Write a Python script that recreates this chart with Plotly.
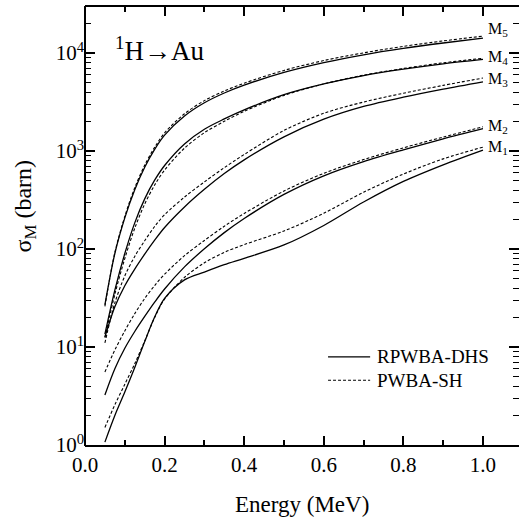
import math
import plotly.graph_objects as go

# Energy grid (MeV)
energy = [0.05, 0.075, 0.1, 0.125, 0.15, 0.175, 0.2, 0.25, 0.3, 0.35, 0.4, 0.5, 0.6, 0.7, 0.8, 0.9, 1.0]

# RPWBA-DHS (solid) cross sections, barn
m5_rpwba = [27, 90, 208, 403, 684, 1041, 1454, 2278, 3108, 3913, 4705, 6346, 7990, 9605, 11157, 12664, 14212]
m4_rpwba = [13.5, 38, 90, 185, 325, 504, 712, 1182, 1669, 2126, 2630, 3760, 4840, 5890, 6840, 7760, 8610]
m3_rpwba = [12.6, 25.7, 42.2, 62.4, 88.6, 123, 166, 269, 407, 589, 813, 1396, 2113, 2851, 3548, 4285, 5093]
m2_rpwba = [3.24, 6.0, 9.7, 14.4, 20.5, 28.7, 39.1, 65.7, 100.6, 147, 205, 361, 559, 781, 1029, 1330, 1690]
m1_rpwba = [1.07, 2.0, 3.47, 6.17, 11.35, 20.2, 31.3, 48.4, 58.2, 69.2, 80.4, 110, 174, 302, 490, 724, 1023]

# PWBA-SH (dashed) cross sections, barn
m5_pwba = [26, 92, 215, 422, 718, 1093, 1530, 2400, 3270, 4100, 4930, 6650, 8380, 10050, 11700, 13300, 14900]
m4_pwba = [12.5, 34.5, 80, 163, 288, 450, 640, 1070, 1540, 2010, 2540, 3700, 4840, 5950, 6960, 7950, 8850]
m3_pwba = [11, 28.2, 53.1, 84.1, 121.6, 169.8, 223.9, 338.8, 484.2, 676, 922, 1622, 2427, 3162, 3890, 4677, 5559]
m2_pwba = [5.56, 9.33, 14.6, 21.9, 31.3, 42.4, 55.3, 85.6, 122.3, 170.8, 230.5, 391, 592, 818, 1078, 1388, 1768]
m1_pwba = [1.51, 2.57, 4.17, 6.76, 11.5, 20, 30.9, 51.3, 72.4, 92.3, 111, 153, 232, 380, 582, 832, 1096]

shells = ["M<sub>5</sub>", "M<sub>4</sub>", "M<sub>3</sub>", "M<sub>2</sub>", "M<sub>1</sub>"]
solid_series = [m5_rpwba, m4_rpwba, m3_rpwba, m2_rpwba, m1_rpwba]
dashed_series = [m5_pwba, m4_pwba, m3_pwba, m2_pwba, m1_pwba]
label_shift = [7, 1, -1, 0, 0]

x_ticks = [0.0, 0.2, 0.4, 0.6, 0.8, 1.0]
x_ticktext = ["0.0", "0.2", "0.4", "0.6", "0.8", "1.0"]
y_ticks = [1, 10, 100, 1000, 10000]
y_ticktext = ["10<sup>0</sup>", "10<sup>1</sup>", "10<sup>2</sup>", "10<sup>3</sup>", "10<sup>4</sup>"]

FONT = "Liberation Serif, Times New Roman, serif"

fig = go.Figure()
for name, s, d in zip(shells, solid_series, dashed_series):
    fig.add_trace(go.Scatter(x=energy, y=s, mode="lines", name="RPWBA-DHS",
                             line=dict(color="black", width=1.3, shape="spline", smoothing=0.9),
                             showlegend=False))
    fig.add_trace(go.Scatter(x=energy, y=d, mode="lines", name="PWBA-SH",
                             line=dict(color="black", width=1.1, dash="3px,2px", shape="spline", smoothing=0.9),
                             showlegend=False))

annotations = []
for name, s, d, sh in zip(shells, solid_series, dashed_series, label_shift):
    annotations.append(dict(x=1.0, y=math.log10(max(s[-1], d[-1])), xref="x", yref="y",
                            text=name, showarrow=False, xanchor="left", yanchor="middle",
                            xshift=3, yshift=sh, font=dict(family=FONT, size=16, color="black")))

annotations.append(dict(x=0.064, y=0.905, xref="paper", yref="paper", text="<sup>1</sup>H→Au",
                        showarrow=False, xanchor="left", yanchor="middle",
                        font=dict(family=FONT, size=27, color="black")))
annotations.append(dict(x=-0.138, y=0.545, xref="paper", yref="paper", text="σ<sub>M</sub> (barn)",
                        showarrow=False, textangle=-90, xanchor="center", yanchor="middle",
                        font=dict(family=FONT, size=24, color="black")))
annotations.append(dict(x=0.5, y=-0.135, xref="paper", yref="paper", text="Energy (MeV)",
                        showarrow=False, xanchor="center", yanchor="middle",
                        font=dict(family=FONT, size=23, color="black")))
# legend texts
annotations.append(dict(x=0.668, y=0.201, xref="paper", yref="paper", text="RPWBA-DHS",
                        showarrow=False, xanchor="left", yanchor="middle",
                        font=dict(family=FONT, size=19, color="black")))
annotations.append(dict(x=0.668, y=0.148, xref="paper", yref="paper", text="PWBA-SH",
                        showarrow=False, xanchor="left", yanchor="middle",
                        font=dict(family=FONT, size=19, color="black")))

shapes = [
    # left frame line (right side of the frame lies outside the picture)
    dict(type="line", xref="paper", yref="paper", x0=0, x1=0, y0=-0.0023, y1=1.0023,
         line=dict(color="black", width=2)),
    # legend samples
    dict(type="line", xref="paper", yref="paper", x0=0.560, x1=0.657, y0=0.201, y1=0.201,
         line=dict(color="black", width=1.3)),
    dict(type="line", xref="paper", yref="paper", x0=0.560, x1=0.657, y0=0.148, y1=0.148,
         line=dict(color="black", width=1.1, dash="3px,2px")),
]

y_minor = [m * 10 ** k for k in range(0, 5) for m in range(2, 10)]
x_minor = [0.1, 0.3, 0.5, 0.7, 0.9]

fig.update_layout(
    width=519, height=520,
    margin=dict(l=85, r=0, t=7, b=75),
    paper_bgcolor="white", plot_bgcolor="white",
    font=dict(family=FONT, size=21, color="black"),
    annotations=annotations, shapes=shapes,
    showlegend=False,
    xaxis=dict(range=[0, 1.0905], showgrid=False, zeroline=False,
               showline=True, linewidth=2, linecolor="black", mirror="ticks",
               ticks="inside", ticklen=9, tickwidth=1.5, tickcolor="black",
               tickmode="array", tickvals=x_ticks, ticktext=x_ticktext,
               tickfont=dict(family=FONT, size=21, color="black"),
               minor=dict(tickmode="array", tickvals=x_minor, ticks="inside", ticklen=5,
                          tickwidth=1.5, tickcolor="black", showgrid=False)),
    yaxis=dict(type="log", range=[0, 4.47], showgrid=False, zeroline=False,
               showline=False, mirror="ticks",
               ticks="inside", ticklen=10, tickwidth=1.5, tickcolor="black",
               tickmode="array", tickvals=y_ticks, ticktext=y_ticktext,
               tickfont=dict(family=FONT, size=21, color="black"),
               minor=dict(tickmode="array", tickvals=y_minor, ticks="inside", ticklen=6,
                          tickwidth=1.2, tickcolor="black", showgrid=False)),
)

fig.write_html("out.html")
